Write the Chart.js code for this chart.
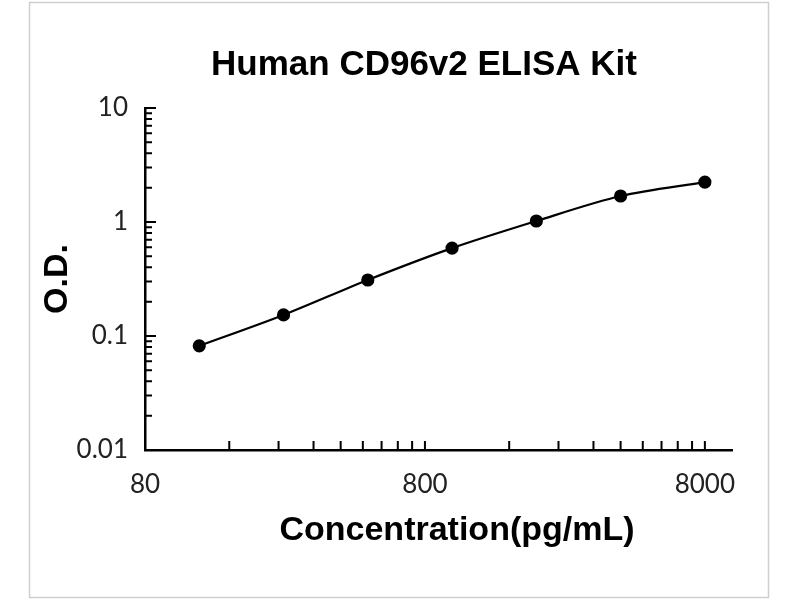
<!DOCTYPE html>
<html>
<head>
<meta charset="utf-8">
<style>
    body { margin: 0; background: #fff; }
    #wrap { width: 800px; height: 600px; }
</style>
</head>
<body>
<div id="wrap">
    <canvas id="chart_id" width="800" height="600"></canvas>
</div>
<script src="https://cdn.jsdelivr.net/npm/chart.js"></script>
<script>
    // values
    const concentrations = [125, 250, 500, 1000, 2000, 4000, 8000];   // pg/mL
    const odValues       = [0.082, 0.153, 0.31, 0.59, 1.02, 1.69, 2.24];

    // labelled ticks on each axis
    const xLabels = [80, 800, 8000];
    const yLabels = [0.01, 0.1, 1, 10];

    const chartTitle = 'Human CD96v2 ELISA Kit';
    const xTitle = 'Concentration(pg/mL)';
    const yTitle = 'O.D.';

    // minor ticks: 1..9 times each labelled value (except after the last one)
    function withMinors(majors) {
        const out = [];
        majors.forEach((m, i) => {
            if (i === majors.length - 1) { out.push(m); return; }
            for (let k = 1; k <= 9; k++) out.push(m * k);
        });
        return out;
    }
    const xTicks = withMinors(xLabels);
    const yTicks = withMinors(yLabels);

    // Excel-like tick marks pointing into the plot, plus title and frame
    const decorPlugin = {
        id: 'decor',
        beforeDraw(chart) {
            const ctx = chart.ctx;
            ctx.save();
            ctx.strokeStyle = '#cfcfcf';
            ctx.lineWidth = 1.5;
            ctx.strokeRect(29.5, 2.5, 739, 595);
            ctx.restore();
        },
        afterDraw(chart) {
            const ctx = chart.ctx;
            const xs = chart.scales.x;
            const ys = chart.scales.y;
            ctx.save();
            ctx.strokeStyle = '#000';
            ctx.lineWidth = 2;
            ctx.beginPath();
            xs.ticks.forEach(t => {
                if (t.value === xLabels[0]) return;
                const px = xs.getPixelForValue(t.value);
                ctx.moveTo(px, xs.top);
                ctx.lineTo(px, xs.top - 9);
            });
            ys.ticks.forEach(t => {
                const py = ys.getPixelForValue(t.value);
                const len = yLabels.includes(t.value) ? 11 : 7;
                ctx.moveTo(ys.right, py);
                ctx.lineTo(ys.right + len, py);
            });
            ctx.stroke();

            ctx.fillStyle = '#000';
            ctx.textAlign = 'center';
            ctx.textBaseline = 'alphabetic';
            ctx.font = 'bold 35px "Liberation Sans", Arial, sans-serif';
            ctx.fillText(chartTitle, 424, 75);
            ctx.font = 'bold 34px "Liberation Sans", Arial, sans-serif';
            ctx.fillText(xTitle, 457, 540);
            ctx.restore();
        }
    };

    const chartCanvas = document.getElementById('chart_id');

    new Chart(chartCanvas, {
        type: 'line',
        data: {
            datasets: [{
                data: concentrations.map((c, i) => ({ x: c, y: odValues[i] })),
                borderColor: '#000',
                backgroundColor: '#000',
                borderWidth: 2.2,
                pointRadius: 5.5,
                pointHoverRadius: 5.5,
                tension: 0.3,
                fill: false
            }]
        },
        options: {
            responsive: false,
            animation: false,
            devicePixelRatio: 1,
            layout: { padding: { left: 0, top: 108, right: 68, bottom: 0 } },
            plugins: {
                legend: { display: false },
                tooltip: { enabled: false }
            },
            scales: {
                x: {
                    type: 'logarithmic',
                    position: 'bottom',
                    min: 80,
                    max: 10000,
                    afterBuildTicks: scale => { scale.ticks = xTicks.map(v => ({ value: v })); },
                    afterFit: scale => { scale.height = 150; },
                    grid: { display: false, drawTicks: false },
                    border: { display: true, color: '#000', width: 2.5 },
                    ticks: {
                        autoSkip: false,
                        maxRotation: 0,
                        padding: 19,
                        color: '#222',
                        font: { family: 'Lato', size: 26 },
                        callback: v => xLabels.includes(v) ? String(v) : ''
                    }
                },
                y: {
                    type: 'logarithmic',
                    position: 'left',
                    min: 0.01,
                    max: 10,
                    afterBuildTicks: scale => { scale.ticks = yTicks.map(v => ({ value: v })); },
                    afterFit: scale => { scale.width = 145; },
                    grid: { display: false, drawTicks: false },
                    border: { display: true, color: '#000', width: 2.5 },
                    ticks: {
                        autoSkip: false,
                        padding: 17,
                        color: '#222',
                        font: { family: 'Lato', size: 26 },
                        callback: v => yLabels.includes(v) ? String(v) : ''
                    },
                    title: {
                        display: true,
                        text: yTitle,
                        color: '#000',
                        font: { family: 'Liberation Sans', size: 34, weight: 'bold' },
                        padding: { top: 37, bottom: 0 }
                    }
                }
            }
        },
        plugins: [decorPlugin]
    });
</script>
</body>
</html>
